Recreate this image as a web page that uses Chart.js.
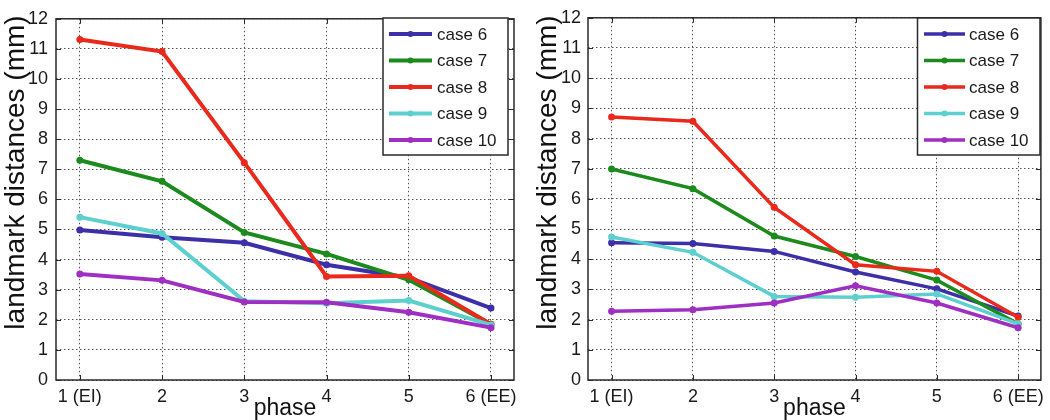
<!DOCTYPE html>
<html><head><meta charset="utf-8">
<script src="https://cdn.jsdelivr.net/npm/chart.js@4.4.0/dist/chart.umd.min.js"></script>
<style>
html,body{margin:0;padding:0;background:#fff;}
#wrap{position:relative;width:1050px;height:420px;overflow:hidden;}
.pane{position:absolute;top:0;width:525px;height:420px;}
#p1{left:0;} #p2{left:525px;}
</style></head><body>
<div id="wrap">
  <div class="pane" id="p1"><canvas id="c1"></canvas></div>
  <div class="pane" id="p2"><canvas id="c2"></canvas></div>
</div>
<script>
// ---- data ----
const phases = ['1 (EI)', '2', '3', '4', '5', '6 (EE)'];
const seriesNames = ['case 6', 'case 7', 'case 8', 'case 9', 'case 10'];
const seriesColors = ['#3c2fa8', '#1c8a1c', '#e8291c', '#5dcfcf', '#9f2fc2'];
const yTicks = [0, 1, 2, 3, 4, 5, 6, 7, 8, 9, 10, 11, 12];

const leftCase6  = [4.98, 4.74, 4.56, 3.83, 3.40, 2.39];
const leftCase7  = [7.30, 6.60, 4.90, 4.19, 3.33, 1.85];
const leftCase8  = [11.31, 10.91, 7.22, 3.44, 3.46, 1.85];
const leftCase9  = [5.41, 4.87, 2.62, 2.55, 2.64, 1.83];
const leftCase10 = [3.52, 3.31, 2.59, 2.58, 2.25, 1.74];

const rightCase6  = [4.55, 4.52, 4.26, 3.58, 3.02, 2.12];
const rightCase7  = [6.99, 6.34, 4.77, 4.09, 3.31, 1.86];
const rightCase8  = [8.71, 8.57, 5.72, 3.82, 3.60, 2.08];
const rightCase9  = [4.74, 4.23, 2.77, 2.74, 2.85, 1.86];
const rightCase10 = [2.28, 2.33, 2.55, 3.12, 2.55, 1.73];

// ---- helpers ----
const FONT = '"Liberation Sans", Arial, Helvetica, sans-serif';

function buildDatasets(seriesList, lw) {
  return seriesList.map((vals, i) => ({
    label: seriesNames[i],
    data: vals.map((v, k) => ({ x: k + 1, y: v })),
    borderColor: seriesColors[i],
    backgroundColor: seriesColors[i],
    borderWidth: lw,
    pointRadius: 3.5,
    pointBorderWidth: 0,
    pointBackgroundColor: seriesColors[i],
    tension: 0,
    order: seriesList.length - i
  }));
}

const decorPlugin = {
  id: 'decor',
  afterDraw(chart, args, o) {
    const ctx = chart.ctx;
    const a = chart.chartArea;
    const xs = chart.scales.x, ys = chart.scales.y;
    ctx.save();
    // box
    ctx.strokeStyle = '#2a2a2a';
    ctx.lineWidth = 1.5;
    ctx.setLineDash([]);
    ctx.strokeRect(a.left, a.top, a.right - a.left, a.bottom - a.top);
    // inward ticks
    ctx.lineWidth = 1;
    const tl = 5;
    ctx.beginPath();
    xs.ticks.forEach(t => {
      const px = Math.round(xs.getPixelForValue(t.value)) + 0.5;
      ctx.moveTo(px, a.bottom); ctx.lineTo(px, a.bottom - tl);
      ctx.moveTo(px, a.top); ctx.lineTo(px, a.top + tl);
    });
    ys.ticks.forEach(t => {
      const py = Math.round(ys.getPixelForValue(t.value)) + 0.5;
      ctx.moveTo(a.left, py); ctx.lineTo(a.left + tl, py);
      ctx.moveTo(a.right, py); ctx.lineTo(a.right - tl, py);
    });
    ctx.stroke();

    // legend
    const L = o.legend;
    ctx.fillStyle = '#fff';
    ctx.fillRect(L.x0, L.y0, L.x1 - L.x0, L.y1 - L.y0);
    ctx.strokeStyle = '#2a2a2a';
    ctx.lineWidth = 1.5;
    ctx.strokeRect(L.x0, L.y0, L.x1 - L.x0, L.y1 - L.y0);
    ctx.font = '17px ' + FONT;
    ctx.textAlign = 'left';
    ctx.textBaseline = 'middle';
    chart.data.datasets.forEach((ds, i) => {
      const y = L.rowTop + i * L.rowStep;
      ctx.strokeStyle = ds.borderColor;
      ctx.lineWidth = ds.borderWidth;
      ctx.beginPath(); ctx.moveTo(L.lx0, y); ctx.lineTo(L.lx1, y); ctx.stroke();
      ctx.fillStyle = ds.borderColor;
      ctx.beginPath(); ctx.arc((L.lx0 + L.lx1) / 2, y, 3, 0, Math.PI * 2); ctx.fill();
      ctx.fillStyle = '#1a1a1a';
      ctx.fillText(ds.label, L.tx, y + 1);
    });

    // axis titles
    ctx.fillStyle = '#111';
    ctx.font = '28px ' + FONT;
    ctx.textAlign = 'center';
    ctx.textBaseline = 'middle';
    ctx.save();
    ctx.translate(o.yTitleX, o.yTitleY);
    ctx.rotate(-Math.PI / 2);
    ctx.fillText('landmark distances (mm)', 0, 0);
    ctx.restore();
    ctx.font = '23px ' + FONT;
    ctx.textBaseline = 'alphabetic';
    ctx.fillText('phase', (a.left + a.right) / 2, 415);
    ctx.restore();
  }
};

function makeChart(id, seriesList, cfg) {
  return new Chart(document.getElementById(id), {
    type: 'line',
    data: { datasets: buildDatasets(seriesList, cfg.lw) },
    options: {
      responsive: true,
      maintainAspectRatio: false,
      animation: false,
      layout: { padding: { left: 0, right: cfg.padRight, top: 12, bottom: 0 } },
      plugins: {
        legend: { display: false },
        tooltip: { enabled: false },
        decor: { legend: cfg.legend, yTitleX: cfg.yTitleX, yTitleY: 172.5 }
      },
      scales: {
        x: {
          type: 'linear',
          min: 0.71, max: 6.28,
          afterBuildTicks: s => { s.ticks = phases.map((_, i) => ({ value: i + 1 })); },
          afterFit: s => { s.height = 40; },
          ticks: {
            callback: v => phases[Math.round(v) - 1],
            font: { family: FONT, size: 18 },
            color: '#1a1a1a',
            padding: 6,
            maxRotation: 0,
            autoSkip: false
          },
          grid: { color: '#555', lineWidth: 1, drawTicks: false },
          border: { display: false, dash: [1.5, 2.5] }
        },
        y: {
          min: 0, max: 12,
          afterBuildTicks: s => { s.ticks = yTicks.map(v => ({ value: v })); },
          afterFit: s => { s.width = cfg.yWidth; },
          ticks: {
            font: { family: FONT, size: 18 },
            color: '#1a1a1a',
            padding: cfg.yPad
          },
          grid: { color: '#555', lineWidth: 1, drawTicks: false },
          border: { display: false, dash: [1.5, 2.5] }
        }
      }
    },
    plugins: [decorPlugin]
  });
}

makeChart('c1', [leftCase6, leftCase7, leftCase8, leftCase9, leftCase10], {
  lw: 4, padRight: 11, yWidth: 56, yPad: 8, yTitleX: 16,
  legend: { x0: 383, x1: 508, y0: 18, y1: 155, lx0: 389, lx1: 432, tx: 437, rowTop: 34, rowStep: 26.5 }
});
makeChart('c2', [rightCase6, rightCase7, rightCase8, rightCase9, rightCase10], {
  lw: 3.5, padRight: 7, yWidth: 63, yPad: 7, yTitleX: 23,
  legend: { x0: 392.5, x1: 515, y0: 18, y1: 155, lx0: 399, lx1: 440, tx: 444, rowTop: 34, rowStep: 26.5 }
});
</script>
</body></html>
